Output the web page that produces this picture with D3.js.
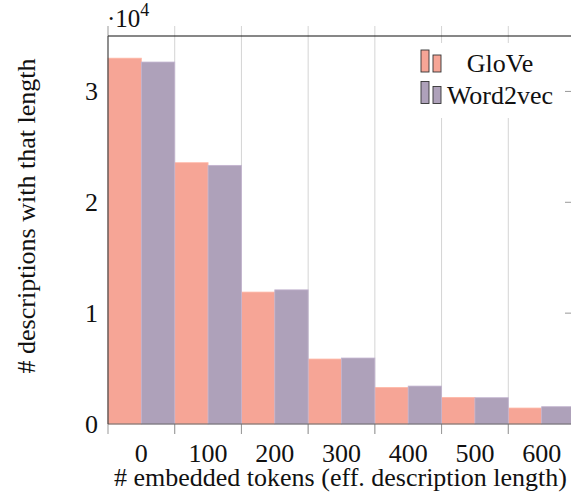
<!DOCTYPE html>
<html>
<head>
<meta charset="utf-8">
<script src="https://cdn.jsdelivr.net/npm/d3@7"></script>
<style>
  body { margin: 0; background: #fff; }
</style>
</head>
<body>
<svg id="chart" width="571" height="495" font-family="'Liberation Serif', 'Times New Roman', Times, serif"></svg>
<script>
// token length bins (centre of each 100-wide bin)
var bins = [0, 100, 200, 300, 400, 500, 600];
// counts in units of 10^4
var glove    = [3.30, 2.357, 1.19, 0.586, 0.33, 0.24, 0.144];
var word2vec = [3.265, 2.333, 1.21, 0.595, 0.342, 0.237, 0.156];
var yTicks = [0, 1, 2, 3];
var seriesNames = ["GloVe", "Word2vec"];
var seriesColors = ["#f6a596", "#aea1ba"];

var svg = d3.select("#chart");
var m = {left: 108, right: 575, top: 36, bottom: 424};
var fs = 26;

var x = d3.scaleLinear().domain([-50, 650]).range([m.left, m.right]);
var y = d3.scaleLinear().domain([0, 3.5]).range([m.bottom, m.top]);
var edges = bins.map(function(b){ return b - 50; }).concat([650]);

// vertical grid / ticks at bin edges
svg.append("g").selectAll("line.grid")
  .data(edges.slice(1, -1))
  .enter().append("line")
  .attr("class", "grid")
  .attr("x1", function(d){ return x(d); }).attr("x2", function(d){ return x(d); })
  .attr("y1", m.top - 10).attr("y2", m.bottom + 10)
  .attr("stroke", "#d4d4d4").attr("stroke-width", 1);

// bars
var series = [glove, word2vec];
series.forEach(function(vals, si){
  svg.append("g").selectAll("rect")
    .data(vals)
    .enter().append("rect")
    .attr("x", function(d, i){ return x(bins[i] - 50 + si * 50); })
    .attr("width", function(d, i){ return x(bins[i] + si * 50) - x(bins[i] - 50 + si * 50); })
    .attr("y", function(d){ return y(d); })
    .attr("height", function(d){ return m.bottom - y(d); })
    .attr("fill", seriesColors[si])
    .attr("stroke", d3.color(seriesColors[si]).brighter(0.3))
    .attr("stroke-width", 0.8);
});

// right-side inner ticks (y)
svg.append("g").selectAll("line")
  .data(yTicks.slice(1))
  .enter().append("line")
  .attr("x1", m.right - 10).attr("x2", m.right)
  .attr("y1", function(d){ return y(d); }).attr("y2", function(d){ return y(d); })
  .attr("stroke", "#999");

// x ticks outside at bin edges
svg.append("g").selectAll("line")
  .data(edges.slice(0, -1))
  .enter().append("line")
  .attr("x1", function(d){ return x(d); }).attr("x2", function(d){ return x(d); })
  .attr("y1", m.bottom).attr("y2", m.bottom + 10)
  .attr("stroke", "#999");
svg.append("line").attr("x1", m.left).attr("x2", m.left).attr("y1", m.top - 10).attr("y2", m.top)
  .attr("stroke", "#999");

// axis lines
svg.append("line").attr("x1", m.left).attr("x2", m.right).attr("y1", m.top).attr("y2", m.top)
  .attr("stroke", "#111").attr("stroke-width", 1.2);
svg.append("line").attr("x1", m.left).attr("x2", m.right).attr("y1", m.bottom).attr("y2", m.bottom)
  .attr("stroke", "#666").attr("stroke-width", 1.2);
svg.append("line").attr("x1", m.left).attr("x2", m.left).attr("y1", m.top).attr("y2", m.bottom)
  .attr("stroke", "#444").attr("stroke-width", 1.2);

// y tick labels
svg.append("g").selectAll("text")
  .data(yTicks)
  .enter().append("text")
  .attr("x", m.left - 10).attr("y", function(d){ return y(d) + 9; })
  .attr("text-anchor", "end").attr("font-size", fs).attr("fill", "#111")
  .text(function(d){ return d; });

// x tick labels
svg.append("g").selectAll("text")
  .data(bins)
  .enter().append("text")
  .attr("x", function(d){ return x(d); }).attr("y", 462)
  .attr("text-anchor", "middle").attr("font-size", fs).attr("fill", "#111")
  .text(function(d){ return d; });

// scale marker
var sc = svg.append("text").attr("x", m.left - 1).attr("y", 27).attr("font-size", 25).attr("fill", "#111");
sc.append("tspan").text("\u00b710");
sc.append("tspan").attr("font-size", 18).attr("dy", -11).text("4");

// axis titles
svg.append("text").attr("x", (m.left + m.right) / 2 - 1).attr("y", 486)
  .attr("text-anchor", "middle").attr("font-size", fs).attr("fill", "#111")
  .text("# embedded tokens (eff. description length)");
svg.append("text").attr("transform", "translate(35,216)rotate(-90)")
  .attr("text-anchor", "middle").attr("font-size", fs).attr("fill", "#111")
  .text("# descriptions with that length");

// legend
var lg = svg.append("g").attr("transform", "translate(416,43)");
lg.append("rect").attr("width", 144).attr("height", 75).attr("fill", "#fff");
seriesNames.forEach(function(name, i){
  var gy = 7 + i * 31.5;
  lg.append("rect").attr("x", 5).attr("y", gy).attr("width", 8).attr("height", 22)
    .attr("fill", seriesColors[i]).attr("stroke", "#333").attr("stroke-width", 0.9);
  lg.append("rect").attr("x", 17).attr("y", gy + 5).attr("width", 8).attr("height", 17)
    .attr("fill", seriesColors[i]).attr("stroke", "#333").attr("stroke-width", 0.9);
  lg.append("text").attr("x", 84).attr("y", gy + 22).attr("text-anchor", "middle")
    .attr("font-size", fs).attr("fill", "#111").text(name);
});
</script>
</body>
</html>
